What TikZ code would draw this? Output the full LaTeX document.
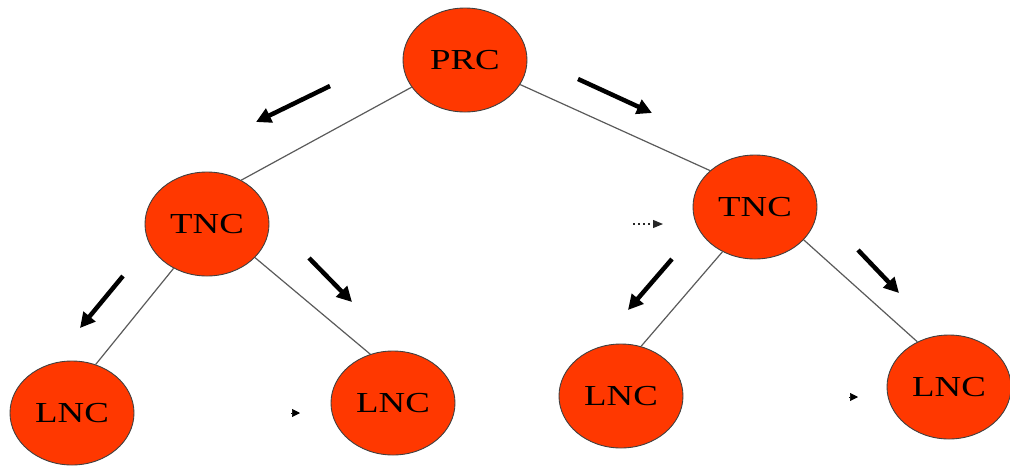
\documentclass[tikz,border=0pt]{standalone}
\usepackage{fontspec}
\setmainfont{Liberation Serif}
\usepackage{graphicx}
\usetikzlibrary{shapes.geometric,arrows.meta}
\definecolor{nodered}{RGB}{255,56,0}
\definecolor{edgegray}{RGB}{90,90,90}
\begin{document}
\begin{tikzpicture}[x=1pt,y=-1pt,
  netnode/.style={ellipse,draw=black!75,line width=0.9pt,fill=nodered,
    minimum width=124pt,minimum height=104pt,inner sep=0pt,
    font=\fontsize{29}{29}\selectfont},
  link/.style={draw=edgegray,line width=1.2pt},
  bigarrow/.style={line width=4.5pt,black,-{Triangle[length=15pt,width=15pt]}},
  tinyarrow/.style={black,line width=0.6pt,-{Triangle[length=8pt,width=8pt]}},
  dotarrow/.style={black!85,line width=1.1pt,dash pattern=on 2pt off 3pt,-{Triangle[length=10pt,width=8pt]}}]
\useasboundingbox (0,0) rectangle (1010,467);
% nodes
\node[netnode] (prc) at (465,60) {\scalebox{1.27}[1]{PRC}};
\node[netnode] (tncl) at (207,224) {\scalebox{1.27}[1]{TNC}};
\node[netnode] (tncr) at (755,207) {\scalebox{1.27}[1]{TNC}};
\node[netnode] (lnc1) at (72,413) {\scalebox{1.27}[1]{LNC}};
\node[netnode] (lnc2) at (393,403) {\scalebox{1.27}[1]{LNC}};
\node[netnode] (lnc3) at (621,396) {\scalebox{1.27}[1]{LNC}};
\node[netnode] (lnc4) at (949,387) {\scalebox{1.27}[1]{LNC}};
% links
\draw[link] (prc.207.8) -- (tncl.52);
\draw[link] (prc.336) -- (tncr.141);
\draw[link] (tncl.233.5) -- (lnc1.64);
\draw[link] (tncl.-35) -- (lnc2.115);
\draw[link] (tncr.234) -- (lnc3.68);
\draw[link] (tncr.-34.7) -- (lnc4.125);
% direction arrows
\coordinate (a1s) at (330,86);  \coordinate (a1e) at (256,122);
\coordinate (a2s) at (578,79);  \coordinate (a2e) at (652,113);
\coordinate (a3s) at (123,276); \coordinate (a3e) at (80,328);
\coordinate (a4s) at (309,258); \coordinate (a4e) at (352,302);
\coordinate (a5s) at (672,259); \coordinate (a5e) at (628,310);
\coordinate (a6s) at (858,250); \coordinate (a6e) at (899,293);
\draw[bigarrow] (a1s) -- (a1e);
\draw[bigarrow] (a2s) -- (a2e);
\draw[bigarrow] (a3s) -- (a3e);
\draw[bigarrow] (a4s) -- (a4e);
\draw[bigarrow] (a5s) -- (a5e);
\draw[bigarrow] (a6s) -- (a6e);
% small marks
\coordinate (d1s) at (633,224); \coordinate (d1e) at (663,224);
\draw[dotarrow] (d1s) -- (d1e);
\coordinate (t1s) at (291,413); \coordinate (t1e) at (300,413);
\draw[tinyarrow] (t1s) -- (t1e);
\coordinate (t2s) at (849,397); \coordinate (t2e) at (858,397);
\draw[tinyarrow] (t2s) -- (t2e);
\end{tikzpicture}
\end{document}
